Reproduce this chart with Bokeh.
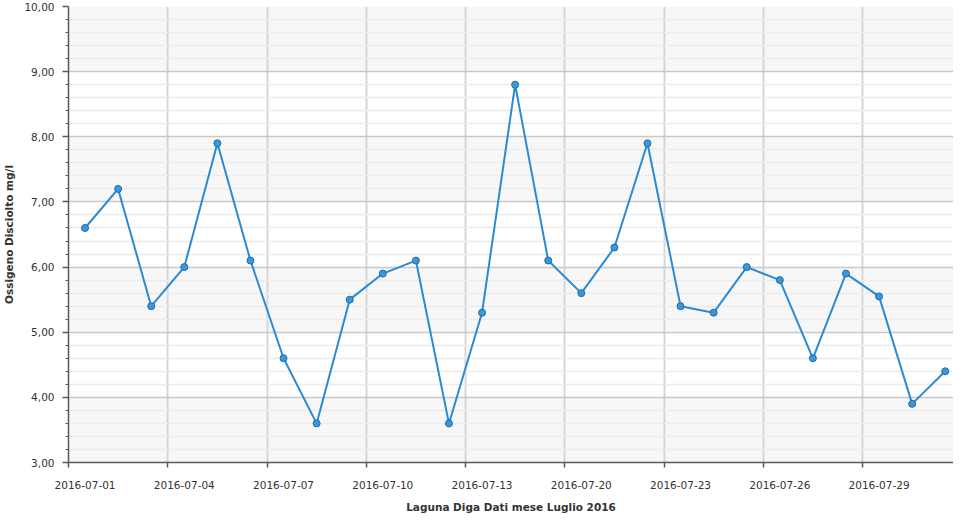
from bokeh.plotting import figure
from bokeh.models import Range1d, FixedTicker, CustomJSTickFormatter
from bokeh.embed import file_html
from bokeh.resources import INLINE

# ---- data ----
dates = [
    "2016-07-01", "2016-07-02", "2016-07-03", "2016-07-04", "2016-07-05",
    "2016-07-06", "2016-07-07", "2016-07-08", "2016-07-09", "2016-07-10",
    "2016-07-11", "2016-07-12", "2016-07-13", "2016-07-15", "2016-07-18",
    "2016-07-20", "2016-07-21", "2016-07-22", "2016-07-23", "2016-07-24",
    "2016-07-25", "2016-07-26", "2016-07-27", "2016-07-28", "2016-07-29",
    "2016-07-30", "2016-07-31",
]
oxygen = [
    6.6, 7.2, 5.4, 6.0, 7.9, 6.1, 4.6, 3.6, 5.5, 5.9,
    6.1, 3.6, 5.3, 8.8, 6.1, 5.6, 6.3, 7.9, 5.4, 5.3,
    6.0, 5.8, 4.6, 5.9, 5.55, 3.9, 4.4,
]
y_ticks = [3, 4, 5, 6, 7, 8, 9, 10]
y_title = "Ossigeno Disciolto mg/l"
x_title = "Laguna Diga Dati mese Luglio 2016"
label_every = 3

# ---- derived positions (category index -> centre of slot) ----
n = len(dates)
xs = [i + 0.5 for i in range(n)]
boundary_ticks = [i for i in range(0, n, label_every)]
label_ticks = [i + 0.5 for i in range(0, n, label_every)]
y_minor = [round(t + k * 0.2, 2) for t in y_ticks[:-1] for k in range(1, 5)]
X_END = 26.75

FONT = "DejaVu Sans"
TXT = "#333333"
AX = "#5a5a5a"

p = figure(width=953, height=515, output_backend="svg", toolbar_location=None,
           x_range=Range1d(0, X_END), y_range=Range1d(y_ticks[0], y_ticks[-1]),
           min_border_left=62, min_border_right=0, min_border_top=6,
           min_border_bottom=53)
p.outline_line_color = None
p.background_fill_color = "white"
p.border_fill_color = "white"

# alternating horizontal bands (3-4, 5-6, 7-8, 9-10) below the grid lines
band_bottoms = y_ticks[0:-1:2]
band_tops = y_ticks[1::2]
p.quad(left=0, right=X_END, bottom=band_bottoms, top=band_tops,
       fill_color="#f7f7f7", line_color=None, level="image")

# grids
p.xgrid.ticker = FixedTicker(ticks=boundary_ticks)
p.xgrid.grid_line_color = "#d6d6d6"
p.xgrid.grid_line_width = 2
p.ygrid.ticker = FixedTicker(ticks=y_ticks, minor_ticks=y_minor)
p.ygrid.grid_line_color = "#c8c8c8"
p.ygrid.grid_line_width = 1.5
p.ygrid.minor_grid_line_color = "#ececec"
p.ygrid.minor_grid_line_width = 1.5

# y axis
ya = p.yaxis[0]
ya.ticker = FixedTicker(ticks=y_ticks, minor_ticks=y_minor)
ya.formatter = CustomJSTickFormatter(code="return tick.toFixed(2).replace('.', ',');")
ya.axis_line_color = AX
ya.axis_line_width = 1.5
ya.major_tick_line_color = AX
ya.major_tick_line_width = 1.5
ya.major_tick_out = 6
ya.major_tick_in = 0
ya.minor_tick_line_color = AX
ya.minor_tick_out = 3
ya.minor_tick_in = 0
ya.major_label_standoff = 8
ya.major_label_text_font = FONT
ya.major_label_text_font_size = "10.5px"
ya.major_label_text_color = TXT
ya.axis_label = y_title
ya.axis_label_text_font = FONT
ya.axis_label_text_font_size = "10.5px"
ya.axis_label_text_font_style = "bold"
ya.axis_label_text_color = TXT
ya.axis_label_standoff = 6

# x axis: labels centred on slots, small marks at slot boundaries (minor ticks)
xa = p.xaxis[0]
xa.ticker = FixedTicker(ticks=label_ticks, minor_ticks=boundary_ticks)
xa.formatter = CustomJSTickFormatter(args=dict(labels=dates),
    code="const i = Math.round(tick - 0.5); return labels[i] || '';")
xa.axis_line_color = AX
xa.axis_line_width = 1.5
xa.major_tick_line_color = None
xa.major_tick_out = 0
xa.major_tick_in = 0
xa.minor_tick_line_color = AX
xa.minor_tick_line_width = 1.5
xa.minor_tick_out = 5
xa.minor_tick_in = 0
xa.major_label_standoff = 13
xa.major_label_text_font = FONT
xa.major_label_text_font_size = "10.5px"
xa.major_label_text_color = TXT
xa.axis_label = x_title
xa.axis_label_text_font = FONT
xa.axis_label_text_font_size = "10.5px"
xa.axis_label_text_font_style = "bold"
xa.axis_label_text_color = TXT
xa.axis_label_standoff = 9

# series
p.line(xs, oxygen, line_color="#2b8ad4", line_width=2)
p.scatter(xs, oxygen, size=7, fill_color="#3b97da", line_color="#1f6ca8", line_width=1)

open("out.html", "w").write(file_html(p, INLINE))
